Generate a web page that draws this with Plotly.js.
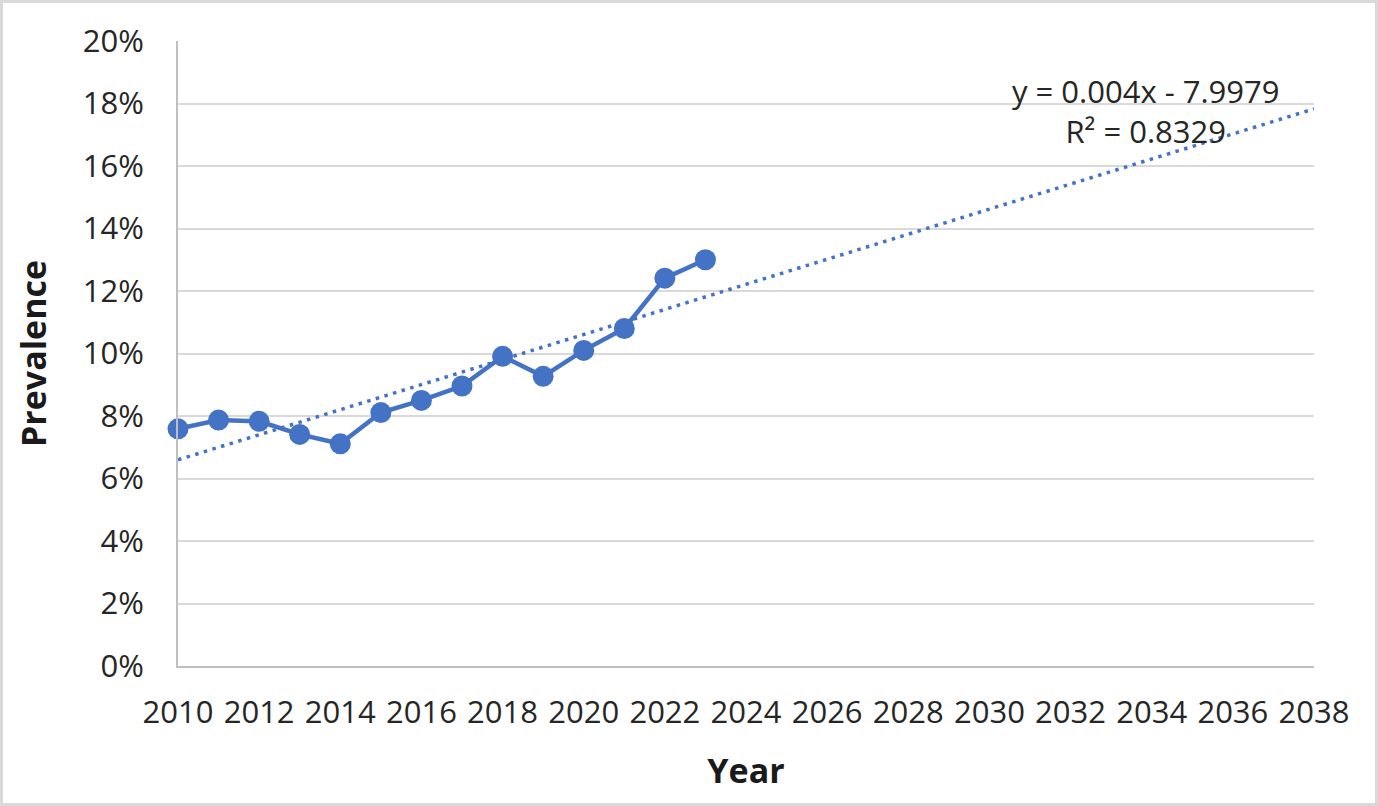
<!DOCTYPE html>
<html>
<head>
<meta charset="utf-8">
<script src="https://cdn.plot.ly/plotly-3.0.1.min.js"></script>
<style>
  body { margin: 0; background: #fff; }
  #wrap { position: relative; width: 1378px; height: 806px; }
  #frame { position: absolute; left: 0; top: 0; width: 1378px; height: 806px;
           box-sizing: border-box; border: 3px solid #d9d9d9; pointer-events: none; }
</style>
</head>
<body>
<div id="wrap">
  <div id="mainPlot"></div>
  <div id="frame"></div>
</div>
<script>
// Prevalence by year
const years = [2010, 2011, 2012, 2013, 2014, 2015, 2016, 2017, 2018, 2019, 2020, 2021, 2022, 2023];
const prevalence = [0.0759, 0.0787, 0.0783, 0.0741, 0.0711, 0.0811, 0.0850, 0.0896, 0.0991, 0.0927, 0.1010, 0.1080, 0.1241, 0.1300];

// Span the linear trendline is projected over
const trendYears = [2010, 2038];

// Trendline label as printed on the chart
const trendLabel = ['y = 0.004x - 7.9979', 'R² = 0.8329'];

const blue = '#4472C4';
const textColor = '#262626';
const font = '"Open Sans", "Noto Sans", sans-serif';

// Least squares fit of prevalence on year (same as the spreadsheet trendline)
let n = years.length;
let mx = years.reduce((a, b) => a + b, 0) / n;
let my = prevalence.reduce((a, b) => a + b, 0) / n;
let sxy = 0, sxx = 0;
for (let i = 0; i < n; i++) {
  sxy += (years[i] - mx) * (prevalence[i] - my);
  sxx += (years[i] - mx) * (years[i] - mx);
}
let slope = sxy / sxx;
let intercept = my - slope * mx;
let trendValues = trendYears.map(x => intercept + slope * x);

let trend = {
  x: trendYears,
  y: trendValues,
  type: 'scatter',
  mode: 'lines',
  line: {color: blue, width: 3.5, dash: '3.5px,5.5px'},
  hoverinfo: 'skip',
  cliponaxis: false
};

let series = {
  x: years,
  y: prevalence,
  type: 'scatter',
  mode: 'lines+markers',
  line: {color: blue, width: 4.5},
  marker: {color: blue, size: 21},
  cliponaxis: false
};

let layout = {
  width: 1378,
  height: 806,
  margin: {l: 178, r: 64, t: 41, b: 140},
  paper_bgcolor: '#fff',
  plot_bgcolor: '#fff',
  showlegend: false,
  font: {family: font, color: textColor, size: 31},
  xaxis: {
    range: [2010, 2038],
    dtick: 2,
    tick0: 2010,
    showgrid: false,
    zeroline: false,
    showline: true,
    linecolor: '#bfbfbf',
    linewidth: 2,
    ticks: '',
    ticklabelstandoff: 18,
    tickfont: {size: 31, color: textColor},
    title: {text: '<b>Year</b>', font: {size: 34, color: '#1a1a1a'}, standoff: 28}
  },
  yaxis: {
    range: [0, 0.2],
    dtick: 0.02,
    tickformat: '.0%',
    showgrid: true,
    gridcolor: '#d9d9d9',
    gridwidth: 2,
    zeroline: false,
    showline: true,
    linecolor: '#bfbfbf',
    linewidth: 2,
    ticks: '',
    ticklabelstandoff: 26,
    tickfont: {size: 31, color: textColor},
    title: {text: '<b>Prevalence</b>', font: {size: 34, color: '#1a1a1a'}, standoff: 26}
  },
  annotations: [{
    xref: 'x', yref: 'y',
    x: 2033.85, y: 0.1775,
    text: trendLabel.join('<br>'),
    showarrow: false,
    align: 'center',
    xanchor: 'center',
    yanchor: 'middle',
    font: {size: 31, color: textColor, family: font}
  }]
};

Plotly.newPlot('mainPlot', [trend, series], layout, {displayModeBar: false, staticPlot: true});
</script>
</body>
</html>
